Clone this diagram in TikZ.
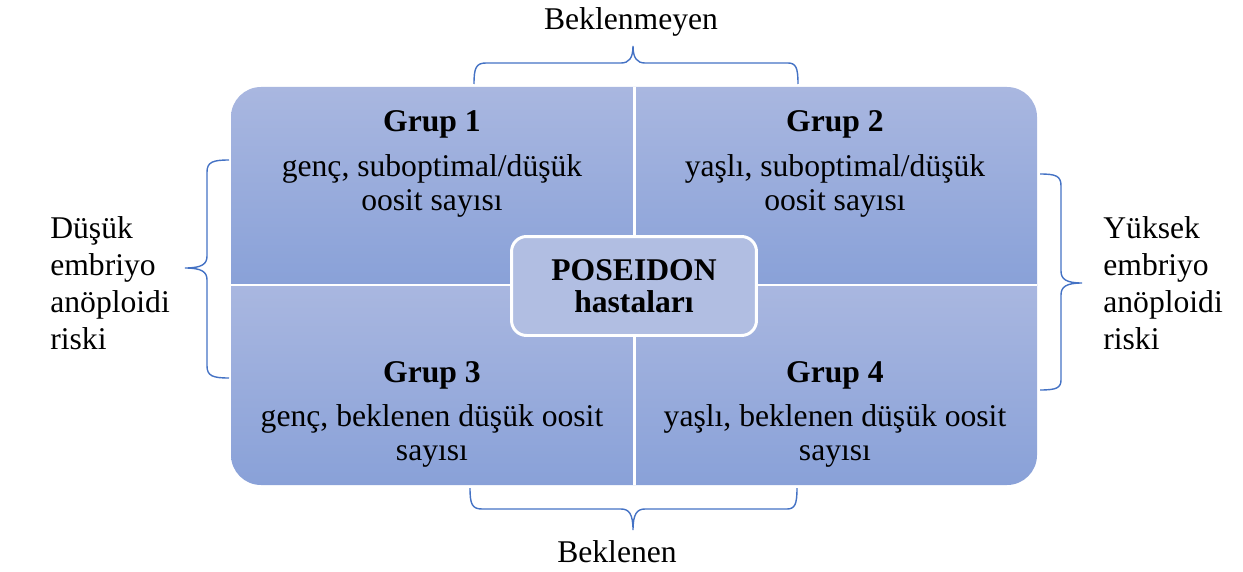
\documentclass[tikz,border=0pt]{standalone}
\usepackage{fontspec}
\setmainfont{Liberation Serif}
\usetikzlibrary{positioning}
\definecolor{quadtop}{RGB}{169,183,224}
\definecolor{quadbot}{RGB}{137,161,216}
\definecolor{hubfill}{RGB}{177,190,226}
\definecolor{bracecol}{RGB}{68,114,196}

\begin{document}
\begin{tikzpicture}[x=0.02cm,y=-0.02cm,
	quad/.style={top color=quadtop,bottom color=quadbot,draw=none},
	divider/.style={draw=white,line width=1.7pt},
	hub/.style={rounded corners=0.3cm,fill=hubfill,draw=white,line width=1.7pt,minimum width=4.9cm,minimum height=1.98cm,align=center,inner sep=0,font=\fontsize{18}{18.5}\selectfont\bfseries},
	title/.style={anchor=base,inner sep=0,font=\fontsize{18}{19}\selectfont\bfseries},
	desc/.style={anchor=base,inner sep=0,align=center,font=\fontsize{18}{19}\selectfont},
	side/.style={anchor=base west,inner sep=0,align=left,font=\fontsize{18}{21}\selectfont},
	label/.style={anchor=base,inner sep=0,font=\fontsize{18}{21}\selectfont},
	curly/.style={draw=bracecol,line width=0.8pt}]
	\useasboundingbox (0,0) rectangle (1243,571);
	% four quadrants inside the rounded frame
	\begin{scope}
		\clip[rounded corners=0.6cm] (231,87) rectangle (1037,485);
		\shade[quad] (231,87) rectangle (634,285);
		\shade[quad] (634,87) rectangle (1037,285);
		\shade[quad] (231,285) rectangle (634,485);
		\shade[quad] (634,285) rectangle (1037,485);
		\draw[divider] (634,87) -- (634,485);
		\draw[divider] (231,285) -- (1037,285);
	\end{scope}
	\node[hub] (hub) at (634,286) {POSEIDON\\hastaları};
	% group texts (base = last line)
	\node[title] (g1) at (432,132) {Grup 1};
	\node[desc] (g1text) at (432,210) {genç, suboptimal/düşük\\oosit sayısı};
	\node[title] (g2) at (835,132) {Grup 2};
	\node[desc] (g2text) at (835,210) {yaşlı, suboptimal/düşük\\oosit sayısı};
	\node[title] (g3) at (432,382) {Grup 3};
	\node[desc] (g3text) at (432,460) {genç, beklenen düşük oosit\\sayısı};
	\node[title] (g4) at (835,382) {Grup 4};
	\node[desc] (g4text) at (835,460) {yaşlı, beklenen düşük oosit\\sayısı};
	% outer labels
	\node[label] (unexp) at (631,30) {Beklenmeyen};
	\node[label] (expd) at (617,562) {Beklenen};
	\node[side] (low) at (50,349) {Düşük\\embriyo\\anöploidi\\riski};
	\node[side] (high) at (1103,349) {Yüksek\\embriyo\\anöploidi\\riski};
	% braces
	\draw[curly] (474,84) .. controls (474,68) and (476,63) .. (486,63) -- (621,63) .. controls (629,63) and (633,58) .. (633,46) .. controls (633,58) and (637,63) .. (645,63) -- (788,63) .. controls (796,63) and (798,68) .. (798,84);
	\draw[curly] (470,488) .. controls (470,504) and (472,509) .. (482,509) -- (621,509) .. controls (629,509) and (633,514) .. (633,530) .. controls (633,514) and (637,509) .. (645,509) -- (787,509) .. controls (795,509) and (797,504) .. (797,488);
	\draw[curly] (229,160) .. controls (213,160) and (207,162) .. (207,172) -- (207,256) .. controls (207,264) and (202,268) .. (185,268) .. controls (202,268) and (207,272) .. (207,280) -- (207,366) .. controls (207,376) and (213,378) .. (229,378);
	\draw[curly] (1040,174) .. controls (1056,174) and (1061,176) .. (1061,186) -- (1061,271) .. controls (1061,279) and (1066,283) .. (1082,283) .. controls (1066,283) and (1061,287) .. (1061,295) -- (1061,380) .. controls (1061,388) and (1056,390) .. (1040,390);
\end{tikzpicture}
\end{document}
